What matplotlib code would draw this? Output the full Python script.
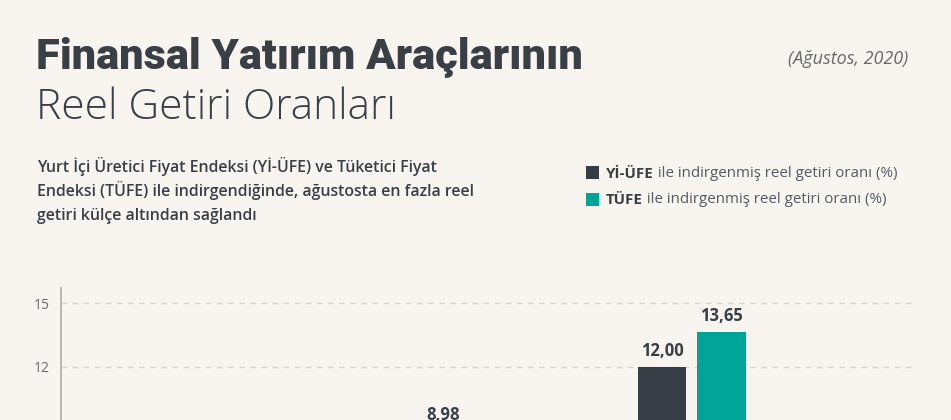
import matplotlib
matplotlib.use("Agg")
import matplotlib.pyplot as plt
import numpy as np

# ---- data ----
categories = ["ABD Doları", "Avro", "Külçe Altın"]
yi_ufe = [3.2, 7.40, 12.00]
tufe = [4.7, 8.98, 13.65]
yticks = [0, 3, 6, 9, 12, 15]

BG = "#f8f5f1"
DARK = "#363d46"
TEAL = "#00a597"
TXT = "#3a3f46"

plt.rcParams['font.family'] = ['Open Sans', 'DejaVu Sans']

W, H = 951, 420
fig = plt.figure(figsize=(W / 100, H / 100), dpi=100, facecolor=BG)

def fx(px):
    return px / W

def fy(py):
    return 1 - py / H

# axes (extends below the visible area)
left_px, right_px, top_px = 60.5, 915, 288
ymax = 15.73
px_per_unit = 21.17
bottom_px = top_px + ymax * px_per_unit
ax = fig.add_axes([fx(left_px), fy(bottom_px), fx(right_px - left_px),
                   (bottom_px - top_px) / H])
ax.set_facecolor('none')

# titles
fig.text(fx(36), fy(68.5), "Finansal Yatırım Araçlarının", fontsize=31.2, fontweight='black',
         family=['Roboto', 'DejaVu Sans'], color=TXT, va='baseline', ha='left')
fig.text(fx(36), fy(119), "Reel Getiri Oranları", fontsize=30.5, fontweight='light',
         color=TXT, va='baseline', ha='left')
fig.text(fx(908), fy(64), "(Ağustos, 2020)", fontsize=13, fontstyle='italic',
         color="#6a6a6a", va='baseline', ha='right')

sub = ["Yurt İçi Üretici Fiyat Endeksi (Yİ-ÜFE) ve Tüketici Fiyat",
       "Endeksi (TÜFE) ile indirgendiğinde, ağustosta en fazla reel",
       "getiri külçe altından sağlandı"]
for i, line in enumerate(sub):
    fig.text(fx(37), fy(172 + 24 * i), line, fontsize=11.4, fontweight='semibold',
             color=TXT, va='baseline', ha='left')

# legend
leg = [("Yİ-ÜFE", DARK, 172.5), ("TÜFE", TEAL, 199)]
for name, col, yc in leg:
    fig.patches.append(plt.Rectangle((fx(586), fy(yc + 6.5)), fx(13), 13 / H,
                                     transform=fig.transFigure, facecolor=col,
                                     edgecolor='none'))
    t1 = fig.text(fx(606), fy(yc + 5), name, fontsize=10.9, fontweight='bold',
                  color=TXT, va='baseline', ha='left')
    ax.annotate(" ile indirgenmiş reel getiri oranı (%)", xy=(1, 0),
                xycoords=t1, va='bottom', ha='left', fontsize=10.9,
                color="#555a60", annotation_clip=False)

x = np.arange(len(categories))
bw = 0.1727
off = 0.107
b1 = ax.bar(x - off, yi_ufe, bw, color=DARK, zorder=3)
b2 = ax.bar(x + off, tufe, bw, color=TEAL, zorder=3)
for bars, vals in ((b1, yi_ufe), (b2, tufe)):
    for r, v in zip(bars, vals):
        ax.annotate(f"{v:.2f}".replace('.', ','), (r.get_x() + r.get_width() / 2, v),
                    xytext=(0, 5), textcoords='offset points', ha='center',
                    va='bottom', fontsize=12, fontweight='bold', color=TXT,
                    annotation_clip=False)

ax.set_xlim(2 - (691.75 - left_px) / 278, 2 + (right_px - 691.75) / 278)
ax.set_ylim(0, ymax)
ax.set_yticks(yticks)
ax.set_yticklabels([str(t) for t in yticks])
ax.set_xticks(x)
ax.set_xticklabels(categories)
ax.tick_params(axis='y', length=0, pad=8, labelsize=10, labelcolor="#6b6b6b")
ax.grid(axis='y', color="#d6d2cc", linestyle=(0, (4, 4)), linewidth=1, zorder=0)
for s in ['top', 'right', 'bottom']:
    ax.spines[s].set_visible(False)
ax.spines['left'].set_color("#bab7b2")
ax.spines['left'].set_linewidth(1.4)

fig.savefig("out.png", dpi=100, facecolor=BG)
